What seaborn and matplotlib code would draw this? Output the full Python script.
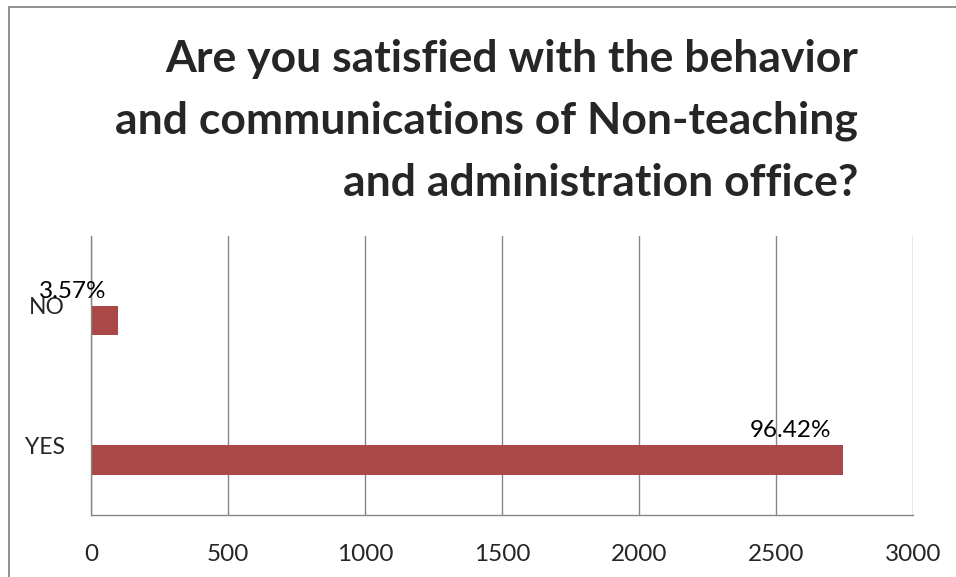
import matplotlib
matplotlib.use("Agg")
import matplotlib.pyplot as plt
import numpy as np
import pandas as pd
import seaborn as sns
from matplotlib.patches import Rectangle

# values
answers = ["NO", "YES"]
counts = [98, 2745]
pct_labels = ["3.57%", "96.42%"]
x_ticks = [0, 500, 1000, 1500, 2000, 2500, 3000]
title = ("Are you satisfied with the behavior\n"
         "and communications of Non-teaching\n"
         "and administration office?")

# two series like the excel cluster: a ghost one carrying the % labels and the real bars
df = pd.DataFrame({
    "answer": answers * 2,
    "value": counts * 2,
    "series": ["pct"] * len(answers) + ["count"] * len(answers),
})

sns.set_style("white")
plt.rcParams['font.family'] = ['Lato', 'DejaVu Sans']

fig = plt.figure(figsize=(9.56, 5.77), dpi=100)
ax = fig.add_axes([91 / 956, 1 - 515 / 577, (913 - 91) / 956, (515 - 236) / 577])

sns.barplot(data=df, y="answer", x="value", hue="series", order=answers,
            hue_order=["pct", "count"], palette={"pct": "white", "count": "#A94846"},
            orient="h", width=0.42, ax=ax, legend=False, saturation=1)

ghost = ax.containers[0]
for p in ghost:
    p.set_facecolor("none")
    p.set_edgecolor("none")
for p in ax.containers[1]:
    p.set_edgecolor("none")

labels = ax.bar_label(ghost, labels=pct_labels, padding=-8.5, fontsize=17.5, color="black")
for t in labels:
    t.set_ha("right")

ax.set_xlim(0, 3000)
ax.set_ylim(1.5, -0.5)
ax.set_xticks(x_ticks)
ax.set_xlabel("")
ax.set_ylabel("")
ax.grid(axis="x", color="#878787", linewidth=1)
ax.set_axisbelow(True)
for s in ["top", "right"]:
    ax.spines[s].set_visible(False)
for s in ["left", "bottom"]:
    ax.spines[s].set_color("#878787")
    ax.spines[s].set_linewidth(1)
ax.tick_params(axis="x", length=0, pad=21, labelsize=17.5)
ax.tick_params(axis="y", length=0, pad=19, labelsize=16.5)

fig.text(858 / 956, 1 - 39 / 577, title, ha="right", va="top", fontsize=32,
         fontweight="bold", linespacing=1.66, multialignment="right")

# chart area border (cropped on the right and bottom in the original)
fig.patches.append(Rectangle((9 / 956, -0.5), 2, 0.5 + 1 - 7 / 577, transform=fig.transFigure,
                             fill=False, edgecolor="#878787", linewidth=1.3))

fig.savefig("out.png", dpi=100)
